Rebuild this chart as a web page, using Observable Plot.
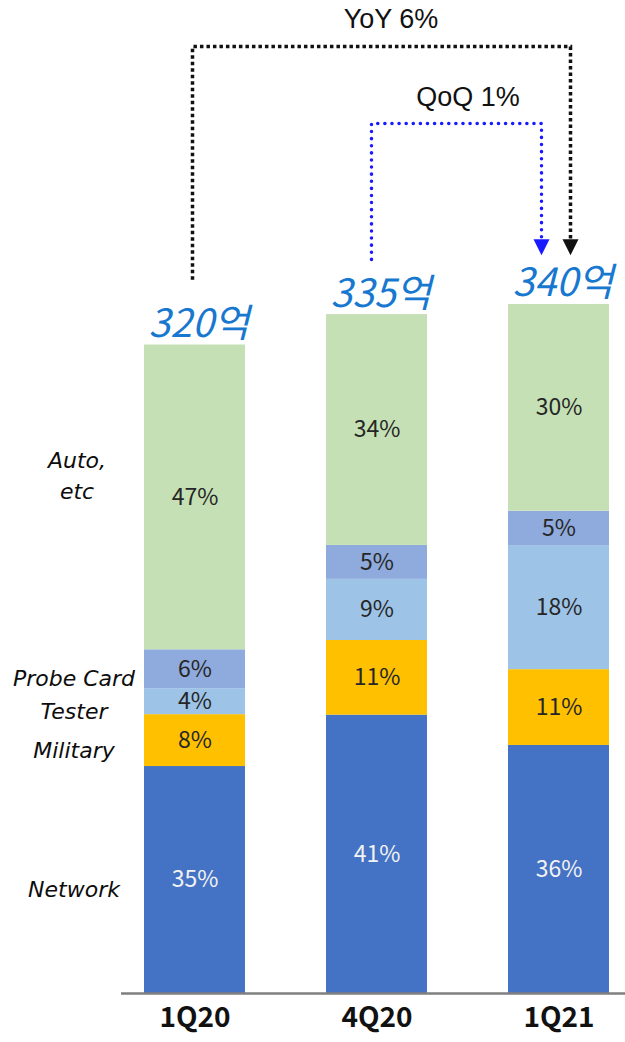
<!DOCTYPE html>
<html>
<head>
<meta charset="utf-8">
<script src="https://cdn.jsdelivr.net/npm/d3@7"></script>
<script src="https://cdn.jsdelivr.net/npm/@observablehq/plot@0.6"></script>
<style>
  html, body { margin: 0; padding: 0; background: #ffffff; }
  #chart svg { display: block; }
</style>
</head>
<body>
<div id="chart"></div>
<script>
// ---- data ----
const quarters = ["1Q20", "4Q20", "1Q21"];
const totals = [320, 335, 340];                 // 억
const segments = ["Network", "Military", "Tester", "Probe Card", "Auto, etc"];
const segLabels = ["Network", "Military", "Tester", "Probe Card", "Auto,\netc"];
const networkPct = [35, 41, 36];
const militaryPct = [8, 11, 11];
const testerPct = [4, 9, 18];
const probePct = [6, 5, 5];
const autoPct = [47, 34, 30];
const segColors = ["#4472c4", "#ffc000", "#9dc3e6", "#8faadc", "#c5e0b4"];
const yoyText = "YoY 6%";
const qoqText = "QoQ 1%";
const yoyLevel = 467;   // connector height, 억 units
const qoqLevel = 429;

// ---- build table ----
const pctBySeg = [networkPct, militaryPct, testerPct, probePct, autoPct];
const rows = [];
segments.forEach((seg, s) => {
  quarters.forEach((q, i) => {
    rows.push({q, seg, label: segLabels[s], pct: pctBySeg[s][i], v: totals[i] * pctBySeg[s][i] / 100});
  });
});

const KR = "'Noto Sans CJK KR', 'Noto Sans', sans-serif";
const LAB = "'DejaVu Sans', 'Noto Sans', sans-serif";

const plot = Plot.plot({
  width: 625,
  height: 1042,
  marginTop: 0,
  marginBottom: 49,
  marginLeft: 121,
  marginRight: 0,
  x: {domain: quarters, paddingInner: 0.445, paddingOuter: 0.107, align: 0.59, axis: null},
  y: {domain: [0, 490], axis: null},
  color: {domain: segments, range: segColors},
  style: {background: "#ffffff"},
  marks: [
    Plot.barY(rows, {x: "q", y: "v", fill: "seg", z: "seg"}),
    Plot.ruleY([0], {stroke: "#7f7f7f", strokeWidth: 2.5}),
    // percent labels (dark)
    Plot.text(rows, Plot.stackY({
      x: "q", y: "v", z: "seg",
      text: d => d.seg === "Network" ? "" : d.pct + "%",
      fill: "#262626", fontSize: 23, fontFamily: KR
    })),
    // percent labels (light, on Network)
    Plot.text(rows, Plot.stackY({
      x: "q", y: "v", z: "seg",
      text: d => d.seg === "Network" ? d.pct + "%" : "",
      fill: "#f2f2f2", fontSize: 23, fontFamily: KR
    })),
    // segment names to the left of the first bar
    Plot.text(rows, Plot.stackY({
      x: "q", y: "v", z: "seg",
      text: d => (d.q === quarters[0] && d.seg !== "Auto, etc") ? d.label : "",
      dx: -121, dy: 10, fill: "#0d0d0d", fontSize: 22, fontStyle: "italic", fontFamily: LAB
    })),
    Plot.text(rows, Plot.stackY({
      x: "q", y: "v", z: "seg",
      text: d => (d.q === quarters[0] && d.seg === "Auto, etc") ? d.label : "",
      dx: -118, dy: -24, lineHeight: 1.4, fill: "#0d0d0d", fontSize: 22, fontStyle: "italic", fontFamily: LAB
    })),
    // totals above bars
    Plot.text(quarters, {
      x: d => d, y: (d, i) => totals[i], text: (d, i) => totals[i] + "억",
      dx: 4, dy: -8, lineAnchor: "bottom",
      fill: "#1878cf", fontSize: 39, fontStyle: "italic", fontFamily: KR
    }),
    // category labels under the baseline
    Plot.text(quarters, {
      x: d => d, frameAnchor: "bottom", dy: 33, text: d => d,
      fill: "#111111", fontSize: 28, fontWeight: "bold", fontFamily: KR
    }),
    // growth labels
    Plot.text([yoyText], {x: () => quarters[1], y: () => yoyLevel, text: d => d, dx: 14, dy: -28,
      fill: "#111111", fontSize: 27, fontFamily: "'Liberation Sans', Arial, sans-serif"}),
    Plot.text([qoqText], {x: () => quarters[1], y: () => qoqLevel, text: d => d, dx: 91, dy: -27,
      fill: "#111111", fontSize: 27, fontFamily: "'Liberation Sans', Arial, sans-serif"})
  ]
});

document.getElementById("chart").appendChild(plot);

// ---- dotted connectors drawn through Plot's scales ----
const xs = plot.scale("x");
const ys = plot.scale("y");
const cx = q => xs.apply(q) + xs.bandwidth / 2;
const py = v => ys.apply(v);
const svg = d3.select(plot);
const g = svg.append("g");

function connector(fromQ, fromDx, fromV, level, toQ, toDx, tipV, color, dash, cap) {
  const x0 = cx(fromQ) + fromDx, x1 = cx(toQ) + toDx;
  const headTop = py(tipV) - 16;
  g.append("path")
    .attr("d", `M${x0},${py(fromV)}V${py(level)}H${x1}V${headTop}`)
    .attr("fill", "none")
    .attr("stroke", color)
    .attr("stroke-width", 3.5)
    .attr("stroke-dasharray", dash)
    .attr("stroke-linecap", cap);
  g.append("path")
    .attr("d", `M${x1 - 8},${headTop}L${x1 + 8},${headTop}L${x1},${py(tipV)}Z`)
    .attr("fill", color);
}

connector(quarters[0], -2, totals[0] + 32, yoyLevel, quarters[2], 12, totals[2] + 24, "#111111", "3.5,3", "butt");
connector(quarters[1], -5, totals[1] + 27, qoqLevel, quarters[2], -17, totals[2] + 24, "#1a1aff", "0.1,7", "round");
</script>
</body>
</html>
